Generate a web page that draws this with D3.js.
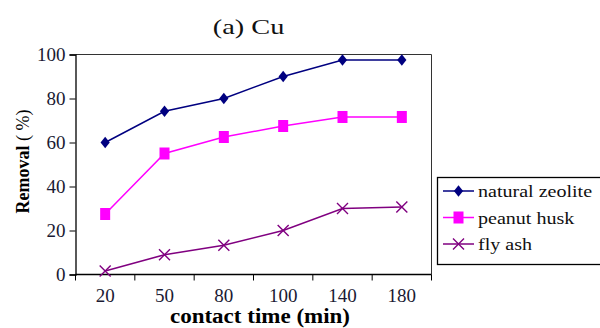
<!DOCTYPE html>
<html>
<head>
<meta charset="utf-8">
<script src="https://cdn.jsdelivr.net/npm/d3@7"></script>
<style>
  body { margin: 0; background: #fff; }
  svg { display: block; }
  text { font-family: "Liberation Serif", "Times New Roman", serif; }
</style>
</head>
<body>
<svg id="chart" width="600" height="328"></svg>
<script>
// Contact time categories (min)
const categories = ["20", "50", "80", "100", "140", "180"];
// Removal (%) for each adsorbent
const zeolite = [60, 74.2, 80, 90, 97.5, 97.5];
const peanutHusk = [27.5, 55, 62.5, 67.5, 71.6, 71.6];
const flyAsh = [1.6, 9, 13.3, 20, 30, 30.7];
const yTicks = [0, 20, 40, 60, 80, 100];
const seriesNames = ["natural zeolite", "peanut husk", "fly ash"];

const series = [
  { name: seriesNames[0], values: zeolite, color: "#000080", marker: "diamond" },
  { name: seriesNames[1], values: peanutHusk, color: "#ff00ff", marker: "square" },
  { name: seriesNames[2], values: flyAsh, color: "#800080", marker: "cross" }
];

const svg = d3.select("#chart");
const plot = { left: 75.5, top: 54.5, right: 431.5, bottom: 274.5 };

const xBand = d3.scaleBand().domain(categories).range([plot.left, plot.right]);
const x = d => xBand(d) + xBand.bandwidth() / 2;
const y = d3.scaleLinear().domain([0, 100]).range([plot.bottom, plot.top]);

// Wide serif text: glyphs stretched horizontally about their anchor
function wideText(parent, tx, ty, sx, size) {
  return parent.append("text")
    .attr("transform", `translate(${tx},${ty}) scale(${sx},1)`)
    .attr("font-size", size);
}

// Title
wideText(svg, 248.5, 34, 1.35, 21)
  .attr("text-anchor", "middle")
  .attr("fill", "#111")
  .text("(a) Cu");

// Plot frame (top and right edges)
svg.append("path")
  .attr("d", `M${plot.left},${plot.top}H${plot.right}V${plot.bottom}`)
  .attr("fill", "none").attr("stroke", "#333").attr("stroke-width", 1);

// Y axis
const yAxis = svg.append("g")
  .attr("transform", `translate(${plot.left},0)`)
  .call(d3.axisLeft(y).tickValues(yTicks).tickSize(6).tickPadding(4));
yAxis.attr("font-family", null);
yAxis.select(".domain").attr("stroke", "#000").attr("stroke-width", 1.3);
yAxis.selectAll(".tick line").attr("stroke", "#000");
yAxis.selectAll("text")
  .attr("font-size", 19).attr("fill", "#1a1a33");

// X axis: ticks sit on category boundaries, labels at centers
const bounds = categories.map(c => xBand(c)).concat([plot.right]);
const xAxis = svg.append("g").attr("transform", `translate(0,${plot.bottom})`);
xAxis.append("path")
  .attr("d", `M${plot.left},0H${plot.right}`)
  .attr("stroke", "#000").attr("stroke-width", 1.3);
xAxis.selectAll("line.tk").data(bounds).join("line")
  .attr("class", "tk")
  .attr("x1", d => d).attr("x2", d => d)
  .attr("y1", 0).attr("y2", 6)
  .attr("stroke", "#000");
xAxis.selectAll("text").data(categories).join("text")
  .attr("x", d => x(d)).attr("y", 27.5)
  .attr("text-anchor", "middle")
  .attr("font-size", 19).attr("fill", "#1a1a33")
  .text(d => d);

// Axis titles
svg.append("text")
  .attr("transform", "translate(28.5,161.5) rotate(-90)")
  .attr("text-anchor", "middle")
  .attr("font-size", 18)
  .attr("fill", "#000")
  .call(t => {
    t.append("tspan").attr("font-weight", "bold").text("Removal");
    t.append("tspan").text(" ( %)");
  });
wideText(svg, 260, 323, 1.15, 20)
  .attr("text-anchor", "middle")
  .attr("font-weight", "bold")
  .attr("fill", "#000")
  .text("contact time (min)");

// Marker shapes
function drawMarker(g, type, color) {
  if (type === "diamond") {
    g.append("path").attr("d", "M0,-5.8L4.6,0L0,5.8L-4.6,0Z").attr("fill", color);
  } else if (type === "square") {
    g.append("rect").attr("x", -5).attr("y", -6).attr("width", 10).attr("height", 12).attr("fill", color);
  } else {
    g.append("path").attr("d", "M-5.5,-5.5L5.5,5.5M-5.5,5.5L5.5,-5.5")
      .attr("stroke", color).attr("stroke-width", 1.4).attr("fill", "none");
  }
}

const line = d3.line().x((d, i) => x(categories[i])).y(d => y(d));

series.forEach(s => {
  svg.append("path")
    .attr("d", line(s.values))
    .attr("fill", "none")
    .attr("stroke", s.color)
    .attr("stroke-width", 1.5);
  s.values.forEach((v, i) => {
    const g = svg.append("g").attr("transform", `translate(${x(categories[i])},${y(v)})`);
    drawMarker(g, s.marker, s.color);
  });
});

// Legend
const legend = svg.append("g");
legend.append("rect")
  .attr("x", 437.5).attr("y", 177.5)
  .attr("width", 200).attr("height", 87)
  .attr("fill", "#fff").attr("stroke", "#000").attr("stroke-width", 1.3);
series.forEach((s, i) => {
  const ly = 191 + i * 26.5;
  legend.append("line")
    .attr("x1", 443).attr("x2", 474).attr("y1", ly).attr("y2", ly)
    .attr("stroke", s.color).attr("stroke-width", 1.5);
  const g = legend.append("g").attr("transform", `translate(458.5,${ly})`);
  drawMarker(g, s.marker, s.color);
  wideText(legend, 478, ly + 6, 1.18, 17)
    .attr("fill", "#111")
    .text(s.name);
});
</script>
</body>
</html>
